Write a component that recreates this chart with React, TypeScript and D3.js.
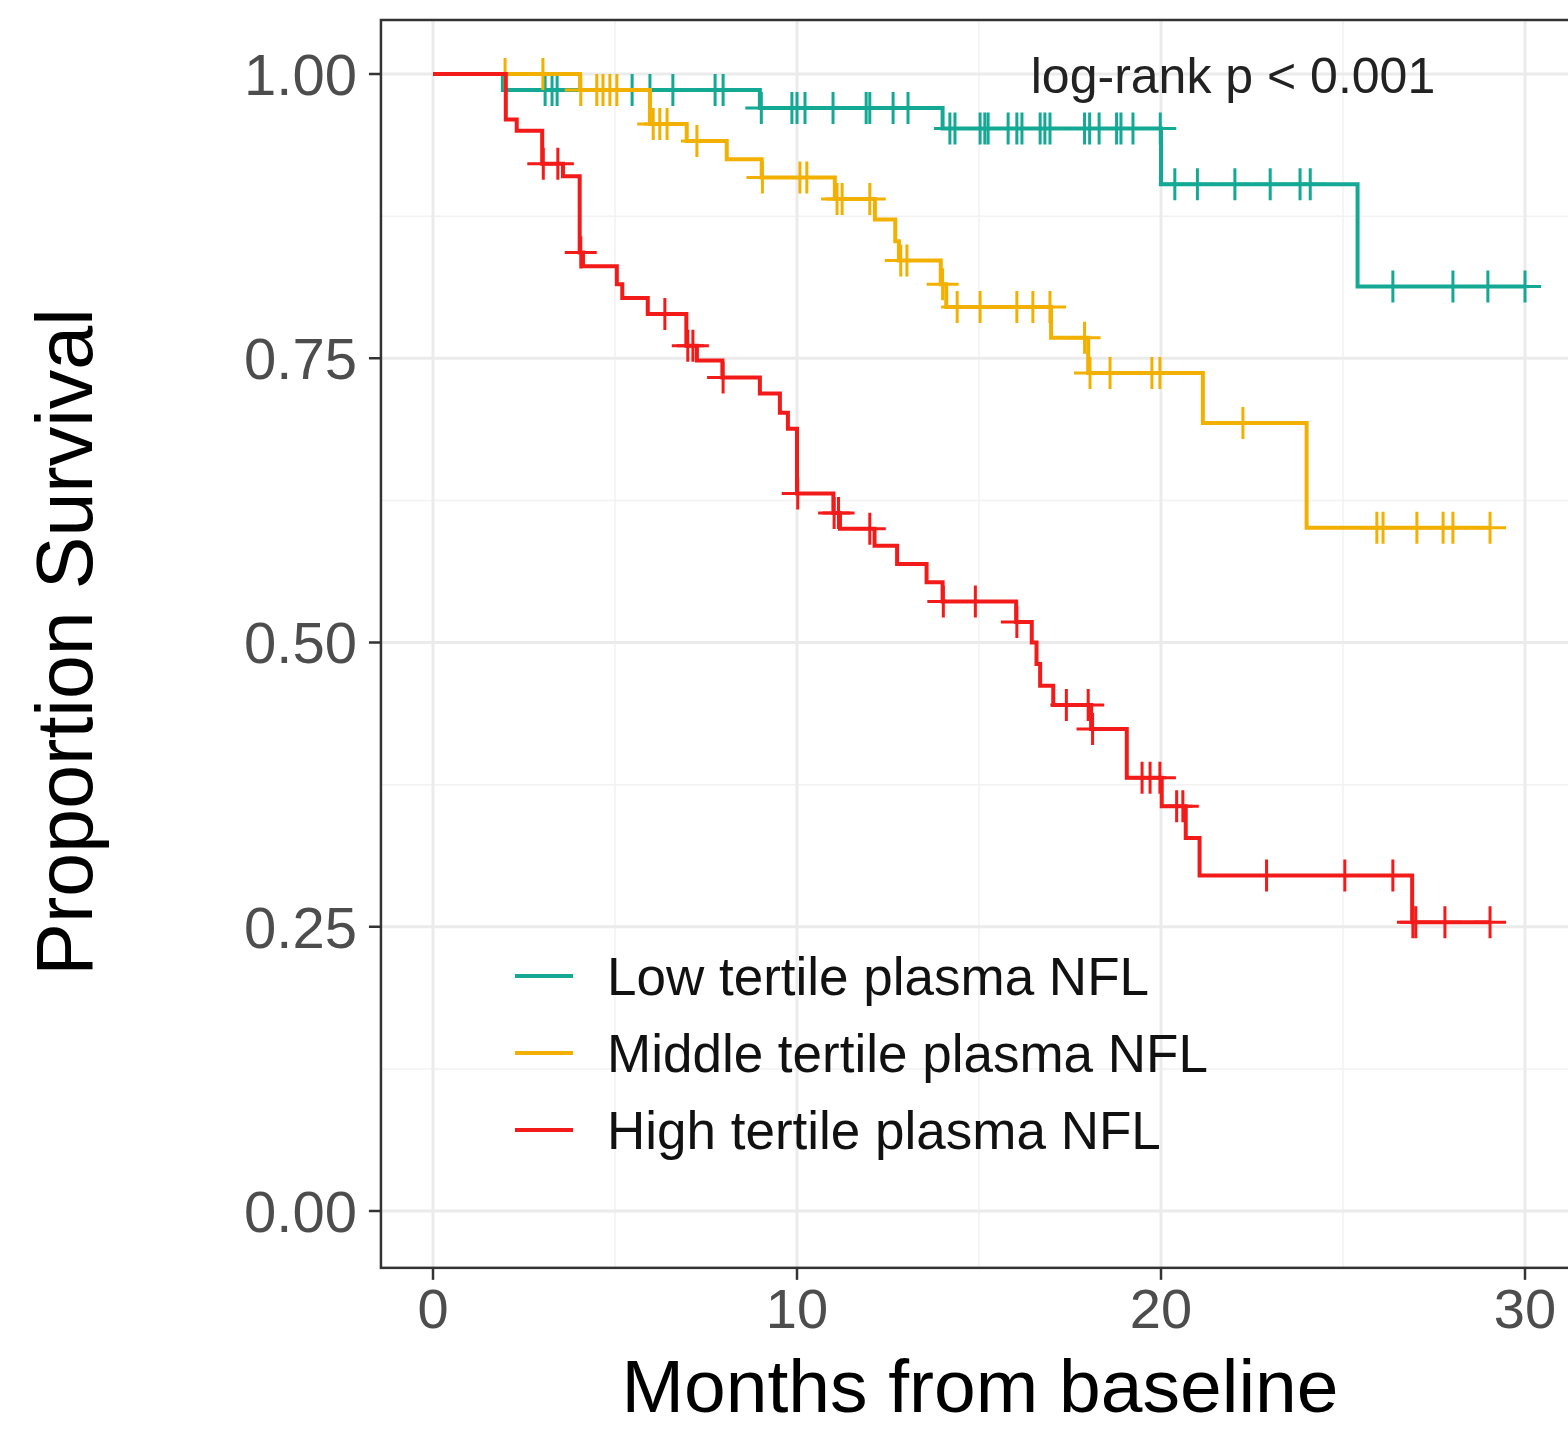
import React, { useEffect, useRef } from 'react';
import * as d3 from 'd3';

// 组别与颜色
const groups = ['Low tertile plasma NFL', 'Middle tertile plasma NFL', 'High tertile plasma NFL'];
const colors = ['#13A994', '#F2B000', '#F31A1A'];

// 生存曲线阶梯点 [月份, 生存比例]
const lowSteps = [
  [0, 1], [1.92, 0.986], [8.98, 0.970], [14.0, 0.952], [20.0, 0.903], [25.4, 0.813],
];
const midSteps = [
  [0, 1], [4.04, 0.986], [5.96, 0.956], [6.97, 0.941], [8.07, 0.925], [9.03, 0.909],
  [11.04, 0.890], [12.14, 0.872], [12.7, 0.853], [12.8, 0.836], [13.95, 0.815],
  [14.1, 0.795], [16.98, 0.768], [18.0, 0.737], [21.15, 0.693], [24.0, 0.601],
];
const highSteps = [
  [0, 1], [2.0, 0.960], [2.3, 0.950], [3.0, 0.921], [3.57, 0.910], [4.03, 0.843],
  [4.12, 0.831], [5.05, 0.815], [5.2, 0.803], [5.9, 0.789], [6.96, 0.761],
  [7.25, 0.748], [7.95, 0.733], [8.98, 0.719], [9.53, 0.702], [9.75, 0.688],
  [10.0, 0.631], [11.0, 0.614], [11.18, 0.600], [12.13, 0.585], [12.75, 0.569],
  [13.56, 0.553], [14.0, 0.536], [16.02, 0.518], [16.45, 0.500], [16.58, 0.481],
  [16.68, 0.462], [17.04, 0.445], [18.08, 0.424], [19.06, 0.381], [20.02, 0.356],
  [20.68, 0.328], [21.06, 0.295], [26.9, 0.254],
];

// 删失时间
const lowCensor = [
  3.08, 3.27, 3.41, 5.47, 5.96, 6.59, 7.75, 7.97, 9.02, 9.86, 10.0, 10.22, 10.99,
  11.9, 12.0, 12.64, 13.05, 14.2, 14.34, 15.03, 15.16, 15.25, 15.8, 16.04, 16.18,
  16.68, 16.81, 16.95, 17.9, 18.04, 18.3, 18.78, 18.9, 19.23, 19.98, 20.38, 21.0,
  22.03, 23.0, 23.82, 24.1, 26.37, 28.02, 28.98, 30.0,
];
const midCensor = [
  1.98, 3.02, 4.06, 4.5, 4.67, 4.86, 5.05, 6.05, 6.23, 6.43, 7.25, 9.05, 10.08,
  10.27, 11.1, 11.24, 12.0, 12.85, 13.02, 14.0, 14.4, 15.03, 16.04, 16.48, 16.95,
  17.9, 18.05, 18.6, 19.75, 19.97, 22.25, 25.93, 26.1, 27.03, 27.75, 28.02, 29.04,
];
const highCensor = [
  3.03, 3.43, 4.06, 6.37, 7.0, 7.14, 7.97, 10.02, 11.02, 11.14, 12.0, 14.02, 14.9,
  16.04, 17.4, 18.0, 18.12, 19.48, 19.7, 19.97, 20.43, 20.6, 22.9, 25.05, 26.37,
  26.92, 27.0, 27.8, 29.04,
];

const stepsList = [lowSteps, midSteps, highSteps];
const censorList = [lowCensor, midCensor, highCensor];

const xTicks = [0, 10, 20, 30];
const yTicks = [0, 0.25, 0.5, 0.75, 1.0];

const KMChart = () => {
  const ref = useRef(null);

  useEffect(() => {
    if (!ref.current) return;
    document.body.style.margin = '0';

    const width = 1568;
    const height = 1429;
    const font = 'Liberation Sans, Arial, Helvetica, sans-serif';

    d3.select(ref.current).selectAll('*').remove();

    const svg = d3.select(ref.current)
      .append('svg')
      .attr('width', width)
      .attr('height', height)
      .style('display', 'block')
      .style('background', '#fff');

    const x = d3.scaleLinear().domain([0, 30]).range([433, 1525]);
    const y = d3.scaleLinear().domain([0, 1]).range([1211, 74]);

    const left = x(-1.43);
    const right = x(31.6);
    const top = y(1.0475);
    const bottom = y(-0.05);

    // 网格
    const grid = svg.append('g');
    const minorX = [5, 15, 25];
    const minorY = [0.125, 0.375, 0.625, 0.875];
    minorX.forEach(v => {
      grid.append('line').attr('x1', x(v)).attr('x2', x(v)).attr('y1', top).attr('y2', bottom)
        .attr('stroke', '#F2F2F2').attr('stroke-width', 1.5);
    });
    minorY.forEach(v => {
      grid.append('line').attr('x1', left).attr('x2', right).attr('y1', y(v)).attr('y2', y(v))
        .attr('stroke', '#F2F2F2').attr('stroke-width', 1.5);
    });
    xTicks.forEach(v => {
      grid.append('line').attr('x1', x(v)).attr('x2', x(v)).attr('y1', top).attr('y2', bottom)
        .attr('stroke', '#EBEBEB').attr('stroke-width', 3);
    });
    yTicks.forEach(v => {
      grid.append('line').attr('x1', left).attr('x2', right).attr('y1', y(v)).attr('y2', y(v))
        .attr('stroke', '#EBEBEB').attr('stroke-width', 3);
    });

    // 曲线
    const line = d3.line()
      .x(d => x(d[0]))
      .y(d => y(d[1]))
      .curve(d3.curveStepAfter);

    const bis = d3.bisector(d => d[0]).right;
    const arm = 16;

    stepsList.forEach((steps, i) => {
      const cens = censorList[i];
      const end = Math.max(steps[steps.length - 1][0], d3.max(cens));
      const pts = [...steps, [end, steps[steps.length - 1][1]]];
      const g = svg.append('g');

      g.append('path')
        .attr('d', line(pts))
        .attr('fill', 'none')
        .attr('stroke', colors[i])
        .attr('stroke-width', 4);

      cens.forEach(t => {
        const s = steps[bis(steps, t) - 1][1];
        const cx = x(t);
        const cy = y(s);
        g.append('path')
          .attr('d', `M${cx - arm},${cy}H${cx + arm}M${cx},${cy - arm}V${cy + arm}`)
          .attr('stroke', colors[i])
          .attr('stroke-width', 3);
      });
    });

    // 边框
    svg.append('rect')
      .attr('x', left).attr('y', top)
      .attr('width', right - left).attr('height', bottom - top)
      .attr('fill', 'none')
      .attr('stroke', '#333')
      .attr('stroke-width', 2.5);

    // 刻度
    yTicks.forEach(v => {
      svg.append('line').attr('x1', left - 12).attr('x2', left).attr('y1', y(v)).attr('y2', y(v))
        .attr('stroke', '#333').attr('stroke-width', 2.5);
      svg.append('text')
        .attr('x', left - 24).attr('y', y(v))
        .attr('dy', '0.36em')
        .attr('text-anchor', 'end')
        .attr('fill', '#4D4D4D')
        .style('font-family', font)
        .style('font-size', '58px')
        .text(d3.format('.2f')(v));
    });
    xTicks.forEach(v => {
      svg.append('line').attr('x1', x(v)).attr('x2', x(v)).attr('y1', bottom).attr('y2', bottom + 12)
        .attr('stroke', '#333').attr('stroke-width', 2.5);
      svg.append('text')
        .attr('x', x(v)).attr('y', 1328)
        .attr('text-anchor', 'middle')
        .attr('fill', '#4D4D4D')
        .style('font-family', font)
        .style('font-size', '56px')
        .text(v);
    });

    // 轴标题
    svg.append('text')
      .attr('x', 980).attr('y', 1412)
      .attr('text-anchor', 'middle')
      .attr('fill', '#000')
      .style('font-family', font)
      .style('font-size', '75px')
      .text('Months from baseline');

    svg.append('text')
      .attr('transform', `translate(92, 642) rotate(-90)`)
      .attr('text-anchor', 'middle')
      .attr('fill', '#000')
      .style('font-family', font)
      .style('font-size', '79px')
      .text('Proportion Survival');

    // 注释
    svg.append('text')
      .attr('x', 1233).attr('y', 93)
      .attr('text-anchor', 'middle')
      .attr('fill', '#222')
      .style('font-family', font)
      .style('font-size', '50px')
      .text('log-rank p < 0.001');

    // 图例
    const legY = [976, 1053, 1130];
    groups.forEach((name, i) => {
      svg.append('line')
        .attr('x1', 515).attr('x2', 573)
        .attr('y1', legY[i]).attr('y2', legY[i])
        .attr('stroke', colors[i])
        .attr('stroke-width', 4);
      svg.append('text')
        .attr('x', 607).attr('y', legY[i])
        .attr('dy', '0.36em')
        .attr('fill', '#111')
        .style('font-family', font)
        .style('font-size', '53px')
        .text(name);
    });
  }, []);

  return <div ref={ref}></div>;
};

export default function App() {
  return <KMChart />;
}
